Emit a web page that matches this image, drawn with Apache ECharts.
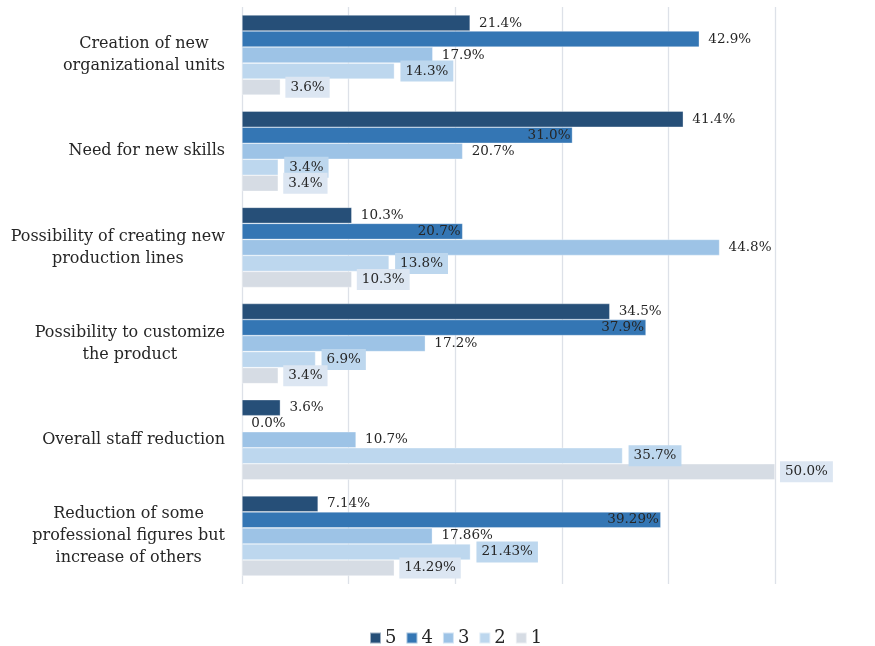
<!DOCTYPE html>
<html>
<head>
<meta charset="utf-8">
<script src="https://cdn.jsdelivr.net/npm/echarts@6/dist/echarts.min.js"></script>
<style>
  html, body { margin: 0; padding: 0; background: #ffffff; }
  #chart { width: 875px; height: 646px; }
</style>
</head>
<body>
<div id="chart"></div>
<script>
// Impact categories (top to bottom) and answer-score series, values in percent
const categories = [
  'Creation of new\norganizational units',
  'Need for new skills',
  'Possibility of creating new\nproduction lines',
  'Possibility to customize\nthe product',
  'Overall staff reduction',
  'Reduction of some\nprofessional figures but\nincrease of others'
];
const seriesNames = ['5', '4', '3', '2', '1'];
const score5 = [21.4, 41.4, 10.3, 34.5, 3.6, 7.14];
const score4 = [42.9, 31.0, 20.7, 37.9, 0.0, 39.29];
const score3 = [17.9, 20.7, 44.8, 17.2, 10.7, 17.86];
const score2 = [14.3, 3.4, 13.8, 6.9, 35.7, 21.43];
const score1 = [3.6, 3.4, 10.3, 3.4, 50.0, 14.29];
const labelDecimals = [1, 1, 1, 1, 1, 2];
const axisTicks = [0, 10, 20, 30, 40, 50];

const FONT = '"DejaVu Serif", "Liberation Serif", serif';
const colors = ['#264f78', '#3476b4', '#9dc3e6', '#bdd7ee', '#d6dce4'];
const allValues = [score5, score4, score3, score2, score1];

// label styling per series; score 4 labels sit inside the bar end where it fits
const inside4 = [false, true, true, true, false, true];
function labelFor(si) {
  const base = {
    show: true,
    position: 'right',
    distance: 9,
    fontFamily: FONT,
    fontSize: 13.5,
    color: '#262626',
    formatter: p => p.value.toFixed(labelDecimals[p.dataIndex]) + '%'
  };
  if (si === 3) Object.assign(base, { backgroundColor: '#bdd7ee', padding: [4, 5, 3, 5], distance: 6 });
  if (si === 4) Object.assign(base, { backgroundColor: '#dce6f2', padding: [4, 5, 3, 5], distance: 5 });
  return base;
}

const series = allValues.map((vals, si) => ({
  name: seriesNames[si],
  type: 'bar',
  barGap: '0%',
  barCategoryGap: '16.7%',
  itemStyle: { color: colors[si], borderColor: 'rgba(255,255,255,0.55)', borderWidth: 0.6 },
  label: labelFor(si),
  data: vals.map((v, i) => {
    const d = { value: v };
    if (si === 1 && inside4[i]) d.label = { position: 'insideRight', distance: 2 };
    return d;
  })
}));

const chart = echarts.init(document.getElementById('chart'), null, { renderer: 'canvas' });
chart.setOption({
  animation: false,
  color: colors,
  grid: { left: 242, right: 100, top: 7, bottom: 62, containLabel: false },
  xAxis: {
    type: 'value',
    min: axisTicks[0],
    max: axisTicks[axisTicks.length - 1],
    interval: axisTicks[1] - axisTicks[0],
    axisLabel: { show: false },
    axisLine: { show: false },
    axisTick: { show: false },
    splitLine: { show: true, lineStyle: { color: '#dde1e8', width: 1.3 } }
  },
  yAxis: {
    type: 'category',
    inverse: true,
    data: categories,
    axisLine: { show: false },
    axisTick: { show: false },
    axisLabel: {
      margin: 17,
      align: 'right',
      fontFamily: FONT,
      fontSize: 16,
      color: '#262626',
      lineHeight: 22,
      formatter: v => v.split('\n').map(s => '{c|' + s + '}').join('\n'),
      rich: { c: { align: 'center', fontFamily: FONT, fontSize: 16, lineHeight: 22, color: '#262626' } }
    }
  },
  legend: {
    top: 624,
    left: 364,
    icon: 'rect',
    itemWidth: 11,
    itemHeight: 11,
    itemGap: 9,
    data: seriesNames,
    textStyle: { fontFamily: FONT, fontSize: 18, color: '#262626', padding: [0, 0, 0, -1] }
  },
  series: series
});
</script>
</body>
</html>
